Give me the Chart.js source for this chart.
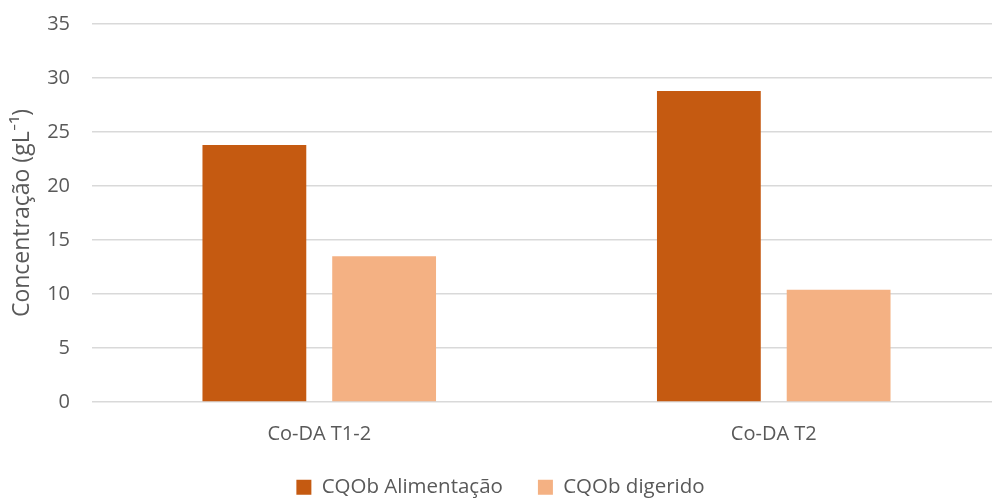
<!DOCTYPE html>
<html>
<head>
<meta charset="utf-8">
<script src="https://cdn.jsdelivr.net/npm/chart.js@4"></script>
<style>
  html, body { margin: 0; padding: 0; background: #fff; overflow: hidden; }
  #wrap { width: 1010px; height: 499px; }
</style>
</head>
<body>
<div id="wrap"><canvas id="cqoChart" width="1010" height="499"></canvas></div>
<script>
const categories = ['Co-DA T1-2', 'Co-DA T2'];
const alimentacao = [23.8, 28.8];
const digerido = [13.5, 10.4];
const yTicks = [0, 5, 10, 15, 20, 25, 30, 35];

const fontFamily = "'Open Sans', Lato, sans-serif";
const textColor = '#595959';

new Chart(document.getElementById('cqoChart'), {
    type: 'bar',
    data: {
        labels: categories,
        datasets: [{
            label: 'CQOb Alimentação',
            data: alimentacao,
            backgroundColor: '#C55A11',
            barPercentage: 0.8,
            categoryPercentage: 0.571
        }, {
            label: 'CQOb digerido',
            data: digerido,
            backgroundColor: '#F4B183',
            barPercentage: 0.8,
            categoryPercentage: 0.571
        }]
    },
    options: {
        responsive: false,
        animation: false,
        layout: { padding: { top: 24, right: 9, left: 0, bottom: 0 } },
        plugins: {
            legend: {
                position: 'bottom',
                maxHeight: 57,
                labels: {
                    boxWidth: 15,
                    boxHeight: 15,
                    padding: 35,
                    color: textColor,
                    font: { family: fontFamily, size: 20.5 }
                }
            },
            tooltip: { enabled: false }
        },
        scales: {
            x: {
                grid: { display: false },
                border: { display: false },
                ticks: {
                    color: textColor,
                    padding: 12,
                    font: { family: fontFamily, size: 20 }
                },
                afterFit: function(scale) { scale.height = 40; }
            },
            y: {
                min: 0,
                max: 35,
                afterBuildTicks: function(scale) {
                    scale.ticks = yTicks.map(v => ({ value: v }));
                },
                // invisible tick marks keep the labels clear of the plot
                grid: { color: '#D9D9D9', lineWidth: 1.5, tickLength: 22, tickColor: 'rgba(0,0,0,0)' },
                border: { display: false },
                ticks: {
                    color: textColor,
                    padding: 0,
                    font: { family: fontFamily, size: 20 }
                },
                title: {
                    display: true,
                    text: 'Concentração (gL⁻¹)',
                    color: textColor,
                    padding: { top: 9, bottom: 0 },
                    font: { family: fontFamily, size: 23 }
                },
                afterFit: function(scale) { scale.width = 92; }
            }
        }
    }
});
</script>
</body>
</html>
